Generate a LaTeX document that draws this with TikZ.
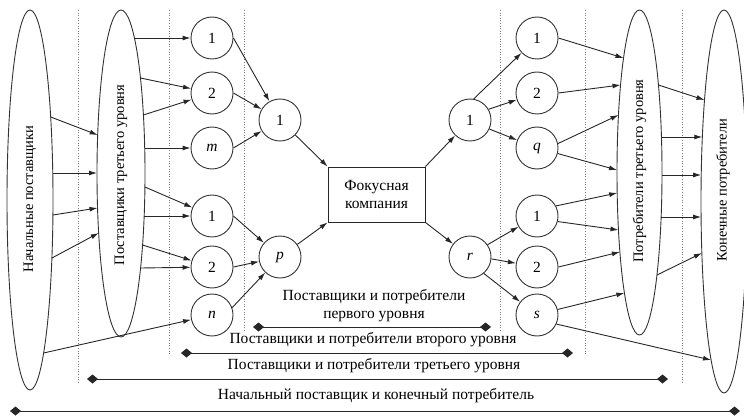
\documentclass[tikz,border=0pt]{standalone}
\usepackage{fontspec}
\setmainfont{Liberation Serif}
\usetikzlibrary{arrows.meta,shapes.geometric}
\begin{document}
\begin{tikzpicture}[x=1pt,y=-1pt,
  line/.style={draw=black!85, line width=0.9pt},
  arr/.style={line, -{Latex[length=8pt,width=5pt]}},
  circ/.style={circle, draw=black!80, line width=0.9pt, minimum size=42pt, inner sep=0pt, font=\fontsize{15.5}{15.5}\selectfont},
  oval/.style={ellipse, draw=black!80, line width=0.9pt, inner sep=0pt},
  vlab/.style={rotate=90, font=\fontsize{14.5}{14.5}\selectfont},
  sep/.style={draw=black!50, line width=1pt, dash pattern=on 1pt off 1.6pt},
  spanline/.style={line, {Diamond[length=11pt,width=9pt]}-{Diamond[length=11pt,width=9pt]}},
  lab/.style={font=\fontsize{15.5}{18}\selectfont, align=center, inner sep=0pt}]
\useasboundingbox (0,0) rectangle (744,417);

% dotted separators
\draw[sep] (78,10) -- (78,383);
\draw[sep] (169,10) -- (169,355);
\draw[sep] (244,10) -- (244,330);
\draw[sep] (500,10) -- (500,330);
\draw[sep] (585,10) -- (585,355);
\draw[sep] (682,10) -- (682,383);

% ellipses
\node[oval, minimum width=46pt, minimum height=380pt] (E1) at (30,200) {};
\node[vlab] (E1t) at (30,199) {Начальные поставщики};
\node[oval, minimum width=48pt, minimum height=327pt] (E2) at (121,173.5) {};
\node[vlab] (E2t) at (121,175) {Поставщики третьего уровня};
\node[oval, minimum width=45pt, minimum height=325pt] (E3) at (639.5,172.5) {};
\node[vlab] (E3t) at (639.5,171) {Потребители третьего уровня};
\node[oval, minimum width=46pt, minimum height=383pt] (E4) at (724,201.5) {};
\node[vlab] (E4t) at (723,190) {Конечные потребители};

% circles left
\node[circ] (L1) at (212,38) {1};
\node[circ] (L2) at (212,93) {2};
\node[circ] (Lm) at (212,148) {\textit{m}};
\node[circ] (L4) at (212,216) {1};
\node[circ] (L5) at (212,267) {2};
\node[circ] (Ln) at (212,315) {\textit{n}};
\node[circ] (M1) at (280,120) {1};
\node[circ] (Mp) at (280,257) {\textit{p}};
% focus
\node[draw=black!85, line width=0.9pt, minimum width=97pt, minimum height=55pt, align=center, inner sep=0pt,
      font=\fontsize{15.5}{18}\selectfont] (F) at (376.5,194.5) {Фокусная\\компания};
% circles right
\node[circ] (N1) at (470,120) {1};
\node[circ] (Nr) at (470,257) {\textit{r}};
\node[circ] (R1) at (537,38) {1};
\node[circ] (R2) at (537,93) {2};
\node[circ] (Rq) at (537,148) {\textit{q}};
\node[circ] (R4) at (537,216) {1};
\node[circ] (R5) at (537,267) {2};
\node[circ] (Rs) at (537,315) {\textit{s}};

% E1 -> E2
\draw[arr] (50.7,117) -- (97.7,135);
\draw[arr] (52.8,173) -- (97,173);
\draw[arr] (52.9,215) -- (97.5,208);
\draw[arr] (51.9,258) -- (98.7,233);
\draw[arr] (43.6,353) -- (Ln);

% E2 -> left circles
\draw[arr] (134.4,38) -- (L1);
\draw[arr] (140.5,78) -- (L2);
\draw[arr] (143.4,115) -- (L2);
\draw[arr] (144.7,148) -- (Lm);
\draw[arr] (144.9,187) -- (L4);
\draw[arr] (144.1,216) -- (L4);
\draw[arr] (142.6,245) -- (L5);
\draw[arr] (140.6,268) -- (L5);

% left circles -> middle
\draw[arr] (L1.east) -- (M1);
\draw[arr] (L2.east) -- (M1);
\draw[arr] (Lm.east) -- (M1);
\draw[arr] (L4.east) -- (Mp);
\draw[arr] (L5.east) -- (Mp);
\draw[arr] (Ln.20) -- (Mp);

% middle -> focus -> right
\draw[arr] (M1) -- (F.north west);
\draw[arr] (Mp) -- (F.south west);
\draw[arr] (F.north east) -- (N1);
\draw[arr] (F.south east) -- (Nr);

% right middle -> right circles
\draw[arr] (N1.80) -- (R1);
\draw[arr] (N1.30) -- (R2);
\draw[arr] (N1.-25) -- (Rq);
\draw[arr] (Nr.35) -- (R4);
\draw[arr] (Nr.-5) -- (R5);
\draw[arr] (Nr.-50) -- (Rs);

% right circles -> E3
\draw[arr] (R1.east) -- (623.5,58);
\draw[arr] (R2.east) -- (620.5,85);
\draw[arr] (Rq.12) -- (618.5,115);
\draw[arr] (Rq.-15) -- (617,170);
\draw[arr] (R4.28) -- (617.2,193);
\draw[arr] (R4.-15) -- (618.5,230);
\draw[arr] (R5.east) -- (619.9,252);
\draw[arr] (Rs.15) -- (624.4,293);
\draw[arr] (Rs.-25) -- (711,360);

% E3 -> E4
\draw[arr] (658.5,85) -- (704.5,100);
\draw[arr] (661.5,137) -- (702.3,137);
\draw[arr] (662,175) -- (701.2,175);
\draw[arr] (661.1,217) -- (701.1,217);
\draw[arr] (657,275) -- (701.9,253);

% spans
\node[lab] (T1) at (374,306) {Поставщики и потребители\\первого уровня};
\coordinate (A1) at (253,327); \coordinate (B1) at (491,327);
\draw[spanline] (A1) -- (B1);
\node[lab] (T2) at (373,340) {Поставщики и потребители второго уровня};
\coordinate (A2) at (181,353); \coordinate (B2) at (573,353);
\draw[spanline] (A2) -- (B2);
\node[lab] (T3) at (374,366) {Поставщики и потребители третьего уровня};
\coordinate (A3) at (87,379); \coordinate (B3) at (668,379);
\draw[spanline] (A3) -- (B3);
\node[lab] (T4) at (376,396) {Начальный поставщик и конечный потребитель};
\coordinate (A4) at (10,411); \coordinate (B4) at (740,411);
\draw[spanline] (A4) -- (B4);
\end{tikzpicture}
\end{document}
